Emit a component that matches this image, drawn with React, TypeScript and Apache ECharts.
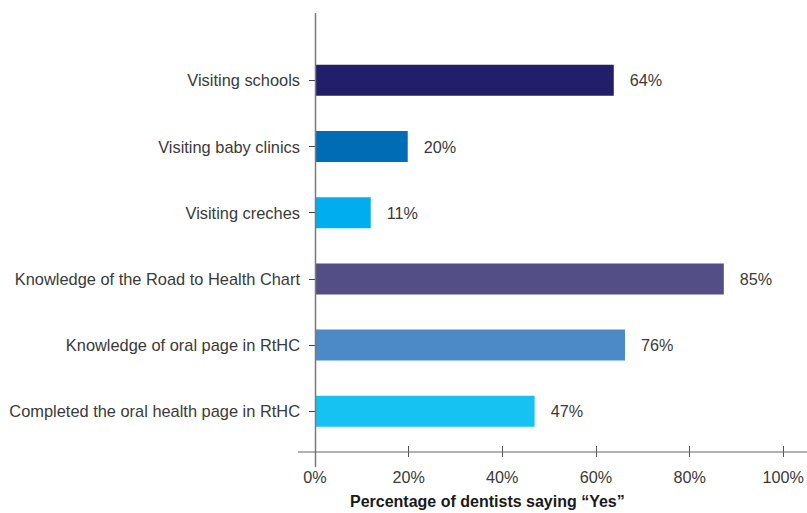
import React, { useEffect, useRef } from "react";
import * as echarts from "echarts";

const categories = [
  "Visiting schools",
  "Visiting baby clinics",
  "Visiting creches",
  "Knowledge of the Road to Health Chart",
  "Knowledge of oral page in RtHC",
  "Completed the oral health page in RtHC",
];
// bar lengths as drawn in the picture
const barValues = [63.8, 19.8, 11.9, 87.3, 66.2, 46.9];
// value labels as printed next to the bars
const valueLabels = ["64%", "20%", "11%", "85%", "76%", "47%"];
const barColors = ["#221e69", "#006cb5", "#00aeef", "#534f86", "#4b8ac7", "#15c2f1"];
const xTicks = [0, 20, 40, 60, 80, 100];
const axisTitle = "Percentage of dentists saying \u201cYes\u201d";

const FONT = "'Liberation Sans', Arial, Helvetica, sans-serif";
const TEXT = "#3a3a3a";

export default function App() {
  const ref = useRef<HTMLDivElement>(null);
  useEffect(() => {
    document.body.style.margin = "0";
    if (!ref.current) return;
    const chart = echarts.init(ref.current, undefined, { renderer: "svg" });
    chart.setOption({
      animation: false,
      backgroundColor: "#ffffff",
      textStyle: { fontFamily: FONT },
      title: {
        text: axisTitle,
        left: 350,
        top: 493,
        padding: 0,
        textStyle: { fontSize: 16, fontWeight: "bold", color: "#1a1a1a", fontFamily: FONT },
      },
      grid: { left: 315, right: 19, top: 47.2, height: 397.2, containLabel: false },
      xAxis: {
        type: "value",
        min: 0,
        max: 100,
        interval: 20,
        offset: 1.6,
        axisLine: { show: false },
        axisTick: { show: true, length: 11, inside: false, lineStyle: { color: "#555", width: 1 } },
        splitLine: { show: false },
        axisLabel: {
          margin: 23,
          fontSize: 16.2,
          color: TEXT,
          fontFamily: FONT,
          formatter: (v: number) => (xTicks.includes(v) ? v + "%" : ""),
        },
      },
      yAxis: {
        type: "category",
        data: categories,
        inverse: true,
        axisLine: { show: false },
        axisTick: { show: true, alignWithLabel: true, length: 6, lineStyle: { color: "#444", width: 1 } },
        axisLabel: { margin: 15, fontSize: 16.4, color: TEXT, fontFamily: FONT },
      },
      series: [
        {
          type: "bar",
          barWidth: 31,
          data: barValues.map((v, i) => ({ value: v, itemStyle: { color: barColors[i] } })),
          label: {
            show: true,
            position: "right",
            distance: 16,
            fontSize: 16.2,
            color: TEXT,
            fontFamily: FONT,
            formatter: (p: any) => valueLabels[p.dataIndex],
          },
        },
      ],
      graphic: [
        {
          type: "line",
          shape: { x1: 315.5, y1: 13, x2: 315.5, y2: 467 },
          style: { stroke: "#7a7a7a", lineWidth: 1.5 },
          z: 10,
        },
        {
          type: "line",
          shape: { x1: 298, y1: 452, x2: 807, y2: 452 },
          style: { stroke: "#666", lineWidth: 1 },
          z: 10,
        },
      ],
    });
    return () => chart.dispose();
  }, []);
  return <div ref={ref} style={{ width: 807, height: 513 }} />;
}
